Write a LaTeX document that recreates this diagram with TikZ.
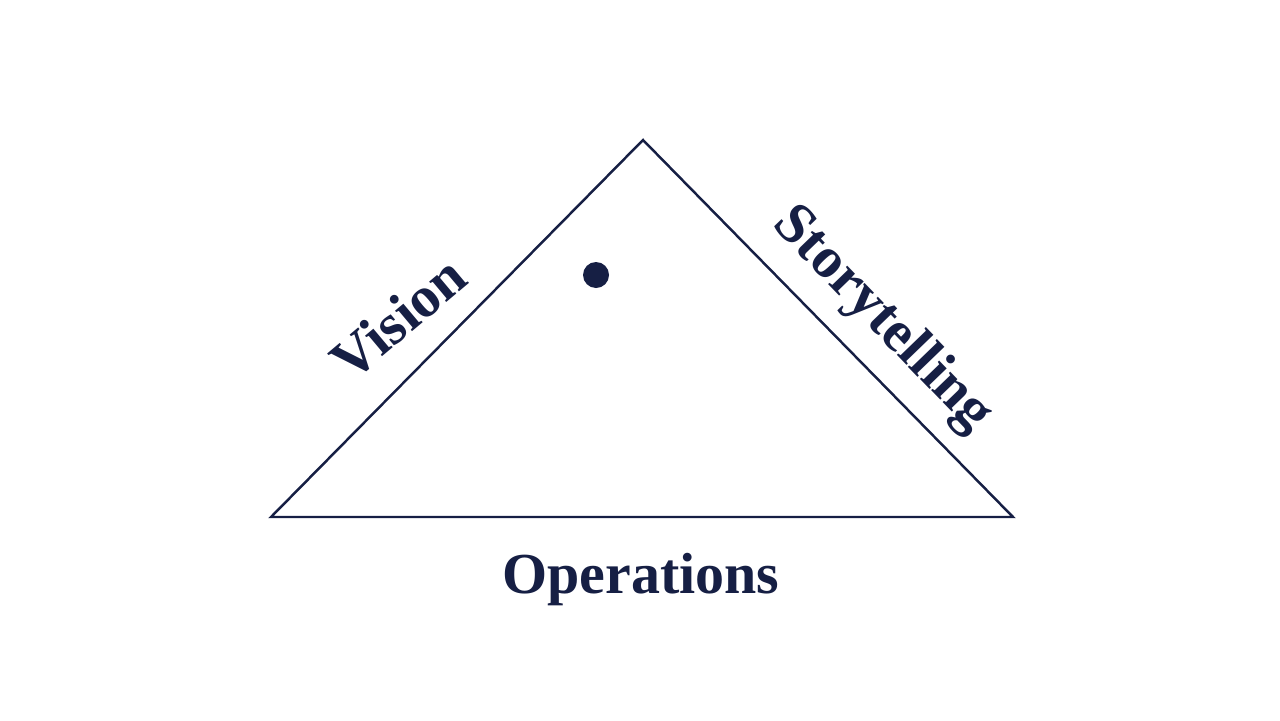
\documentclass[tikz,border=0pt]{standalone}
\usepackage{fontspec}
\setmainfont{Liberation Serif}
\definecolor{triInk}{RGB}{22,31,68}

\begin{document}
\begin{tikzpicture}[
  x=0.02cm,
  y=-0.02cm,
  edgeLine/.style={draw=triInk, line width=1.4pt, line join=miter},
  sideLabel/.style={font=\fontsize{33}{36}\selectfont\bfseries, text=triInk, inner sep=0pt}
]
  \useasboundingbox (0,0) rectangle (1280,720);

  \coordinate (apex) at (643,140);
  \coordinate (left) at (271,517);
  \coordinate (right) at (1013,517);

  \draw[edgeLine] (apex) -- (right) -- (left) -- cycle;

  \fill[triInk] (596,275) circle (13);

  \node[sideLabel, rotate=40] (vision) at (398,318) {Vision};
  \node[sideLabel, rotate=-46] (story) at (882,320) {Storytelling};
  \node[sideLabel] (ops) at (641,580) {Operations};
\end{tikzpicture}
\end{document}
